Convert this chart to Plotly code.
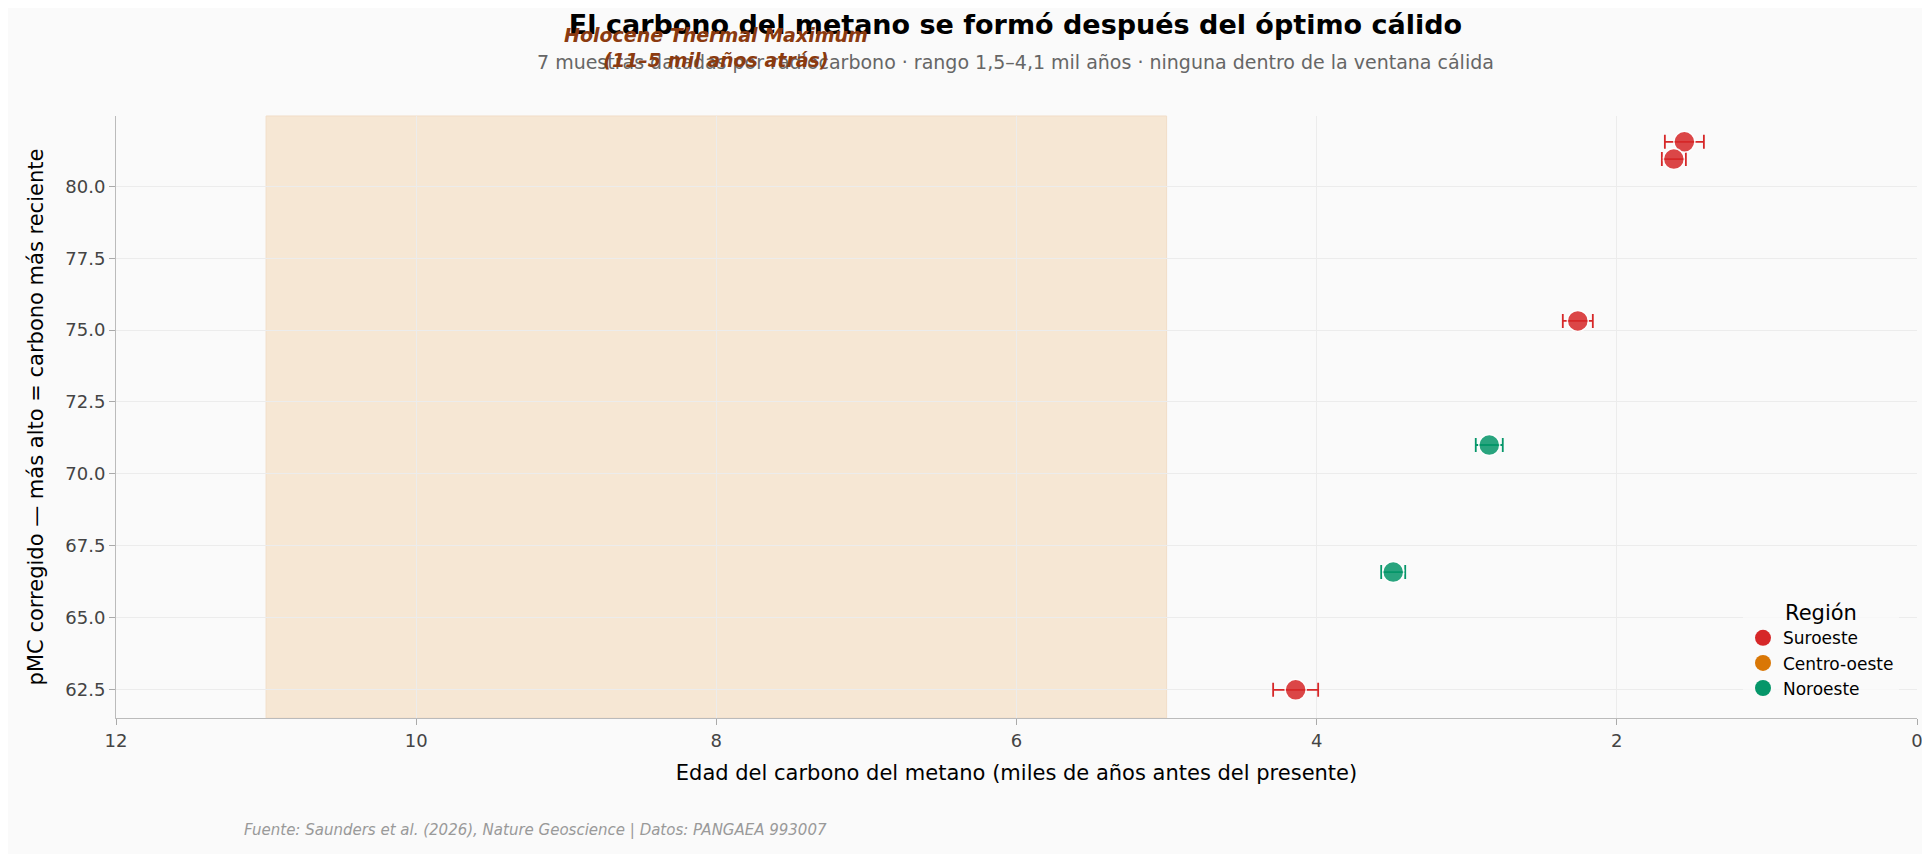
import plotly.graph_objects as go

# muestras datadas por radiocarbono
regions = ["Suroeste", "Suroeste", "Suroeste", "Noroeste", "Noroeste", "Suroeste"]
age_ka = [1.55, 1.62, 2.26, 2.85, 3.49, 4.14]
age_err = [0.13, 0.08, 0.10, 0.09, 0.08, 0.15]
pmc = [81.55, 80.95, 75.32, 71.0, 66.58, 62.48]

colors = {"Suroeste": "#d62728", "Centro-oeste": "#d97706", "Noroeste": "#059669"}
legend_order = ["Suroeste", "Centro-oeste", "Noroeste"]

fig = go.Figure()

fig.add_vrect(x0=11, x1=5, fillcolor="#f5dfc5", opacity=0.7, line_width=1,
              line_color="#efd3b3", layer="below")

for reg in legend_order:
    idx = [i for i, r in enumerate(regions) if r == reg]
    if idx:
        fig.add_trace(go.Scatter(
            x=[age_ka[i] for i in idx], y=[pmc[i] for i in idx],
            error_x=dict(type="data", array=[age_err[i] for i in idx],
                         color=colors[reg], thickness=1.8, width=7),
            mode="markers", name=reg, showlegend=False,
            marker=dict(color=colors[reg], size=21, opacity=0.85,
                        line=dict(color="white", width=1.5))))
    # legend entries
    fig.add_trace(go.Scatter(x=[None], y=[None], mode="markers", name=reg,
                             marker=dict(color=colors[reg], size=20)))

fig.add_annotation(x=8, y=1.0, yref="paper", yshift=94, showarrow=False,
                   text="<b><i>Holocene Thermal Maximum<br>(11–5 mil años atrás)</i></b>",
                   font=dict(size=19, color="#8b3a0f"), yanchor="top")

fig.add_annotation(x=0.07, xref="paper", y=-0.205, yref="paper", showarrow=False,
                   xanchor="left", text="<i>Fuente: Saunders et al. (2026), Nature Geoscience | Datos: PANGAEA 993007</i>",
                   font=dict(size=15, color="#999999"))

fig.update_layout(
    width=1930, height=854,
    paper_bgcolor="#fafafa", plot_bgcolor="#fafafa",
    font=dict(family="DejaVu Sans", color="#333"),
    margin=dict(l=108, r=21, t=108, b=144),
    title=dict(text="<b>El carbono del metano se formó después del óptimo cálido</b><br>"
                    "<span style='font-size:19px;color:#666'>7 muestras datadas por radiocarbono · rango 1,5–4,1 mil años · ninguna dentro de la ventana cálida</span>",
               x=0.522, xanchor="center", y=0.97, yanchor="top",
               font=dict(size=27, color="black")),
    xaxis=dict(range=[12, 0], dtick=2, showgrid=True, gridcolor="#ececec",
               ticks="outside", ticklen=6, tickcolor="#aaa", showline=True, linecolor="#bbb",
               tickfont=dict(size=18, color="#444"), zeroline=False,
               title=dict(text="Edad del carbono del metano (miles de años antes del presente)",
                          font=dict(size=21, color="black"))),
    yaxis=dict(range=[61.5, 82.45], dtick=2.5, tickformat=".1f", showgrid=True,
               gridcolor="#ececec", ticks="outside", ticklen=6, tickcolor="#aaa",
               showline=True, linecolor="#bbb", zeroline=False,
               tickfont=dict(size=18, color="#444"),
               title=dict(text="pMC corregido — más alto = carbono más reciente",
                          font=dict(size=21, color="black"))),
    legend=dict(x=0.99, y=0.02, xanchor="right", yanchor="bottom", bgcolor="rgba(250,250,250,0.8)",
                title=dict(text="Región", font=dict(size=21, color="black"), side="top center"),
                font=dict(size=17, color="black"), tracegroupgap=4),
)

fig.write_html("out.html")
